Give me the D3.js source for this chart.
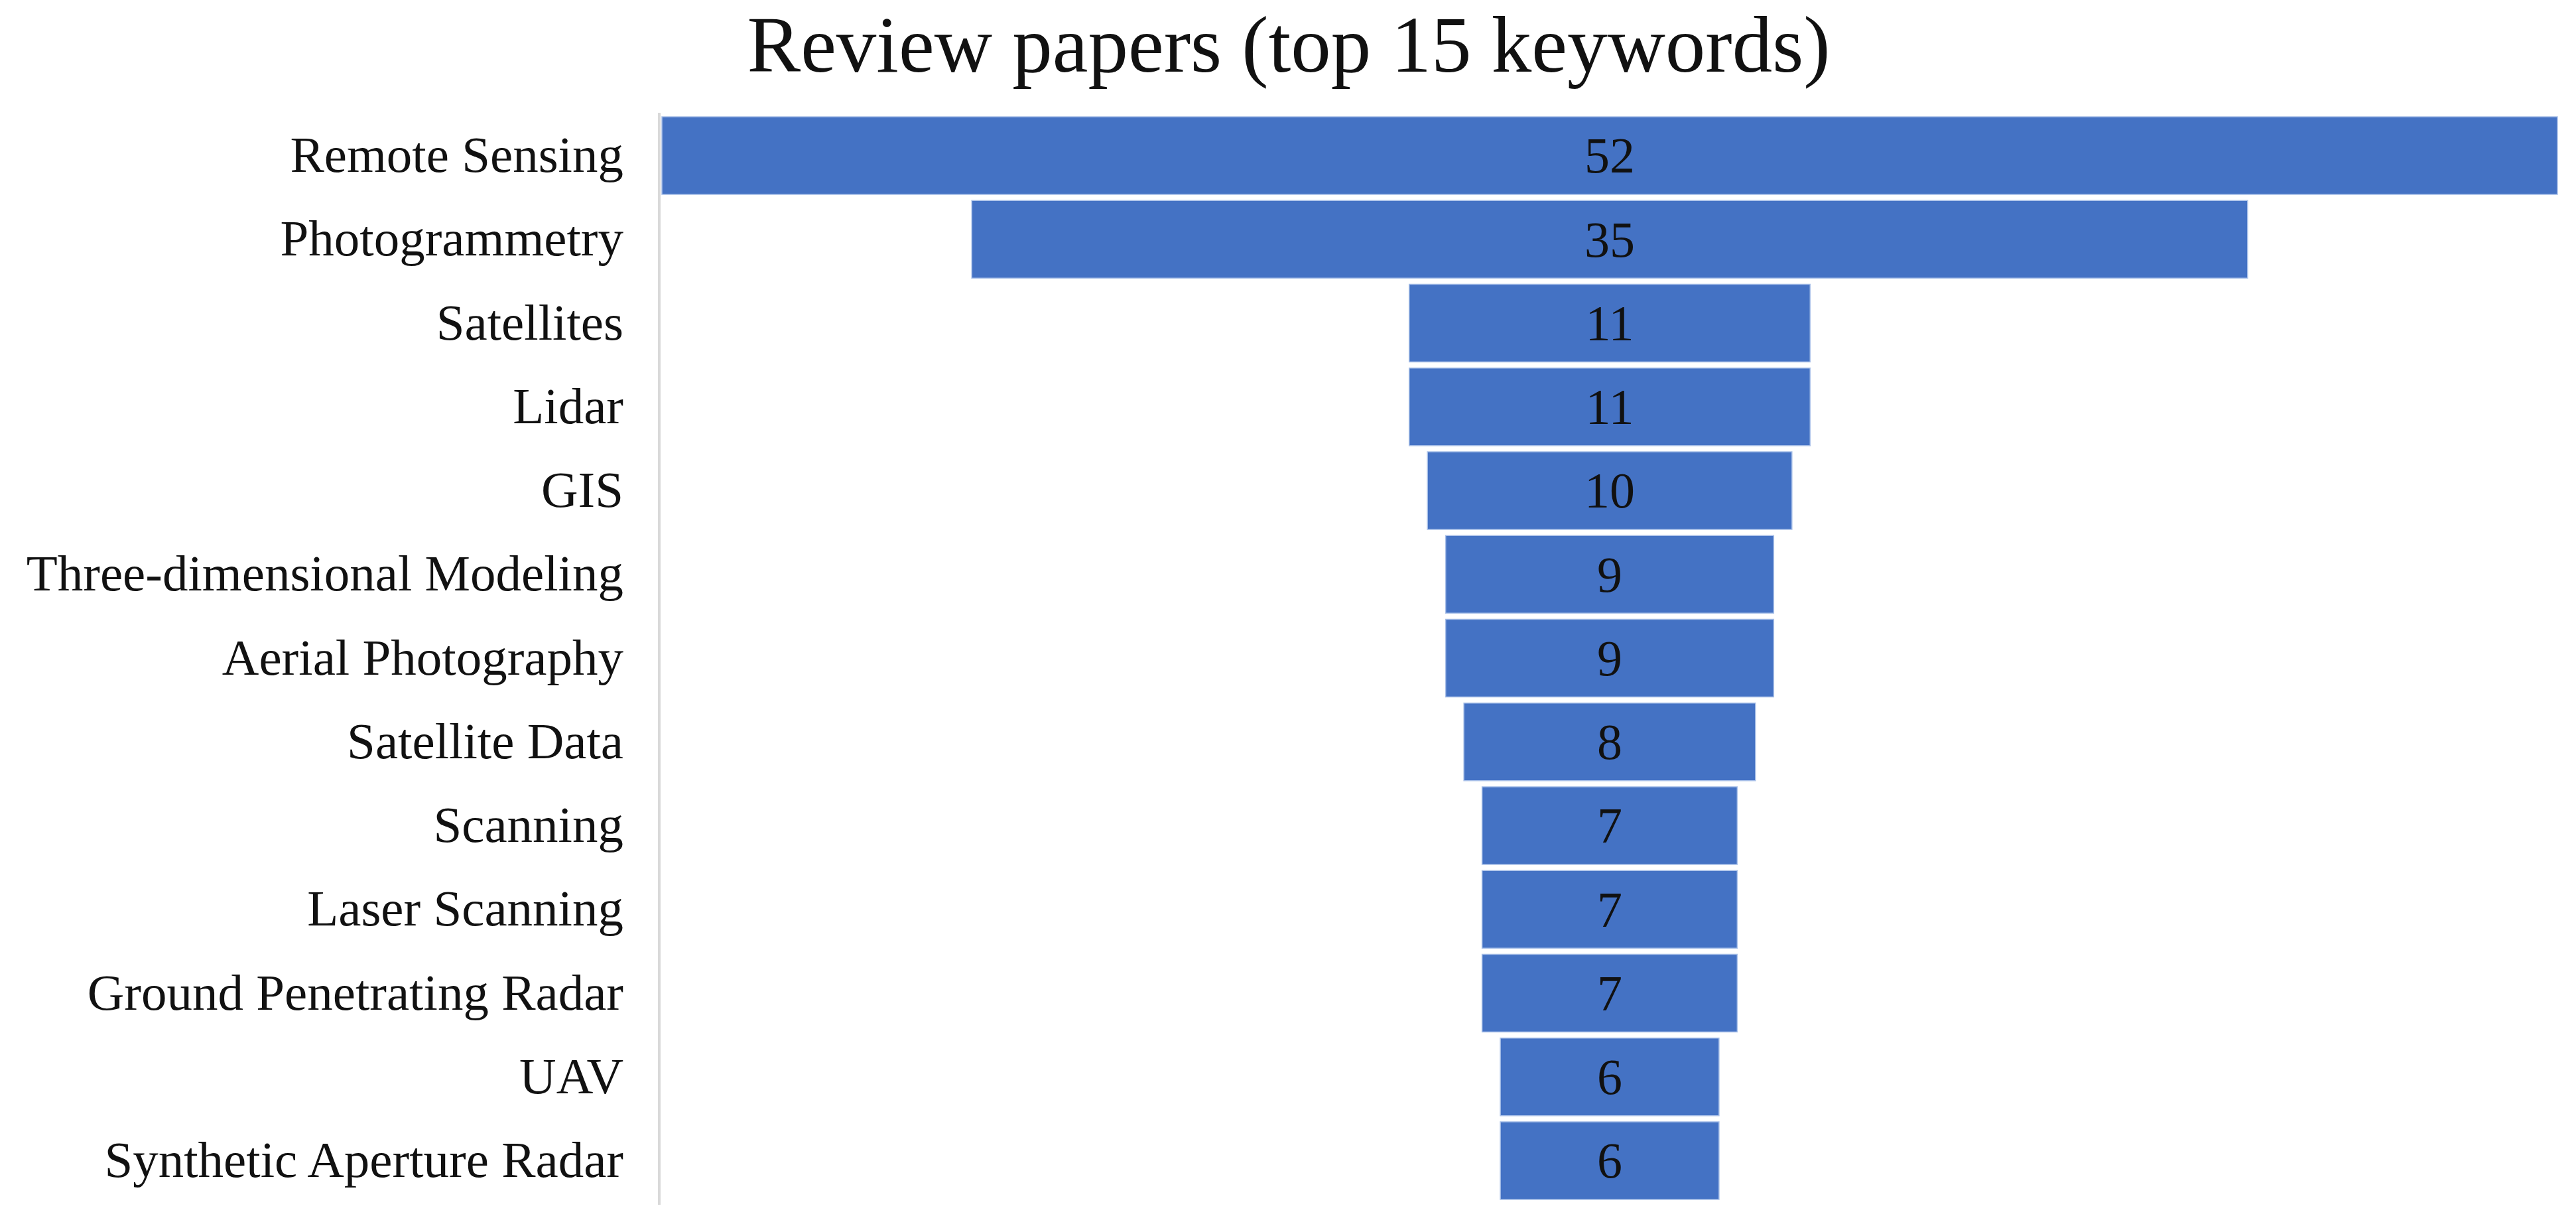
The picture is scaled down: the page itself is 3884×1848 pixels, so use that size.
<!DOCTYPE html>
<html>
<head>
<meta charset="utf-8">
<script src="https://cdn.jsdelivr.net/npm/d3@7.9.0/dist/d3.min.js"></script>
<style>
  html, body { margin: 0; padding: 0; background: #fff; }
  svg { display: block; }
  text { font-family: "Liberation Serif", "DejaVu Serif", serif; fill: #111; }
</style>
</head>
<body>
<svg id="chart" width="3884" height="1848"></svg>
<script>
// keyword labels, top to bottom
const keywords = [
  'Remote Sensing', 'Photogrammetry', 'Satellites', 'Lidar', 'GIS',
  'Three-dimensional Modeling', 'Aerial Photography', 'Satellite Data',
  'Scanning', 'Laser Scanning', 'Ground Penetrating Radar', 'UAV',
  'Synthetic Aperture Radar'
];
// number of review papers per keyword
const counts = [52, 35, 11, 11, 10, 9, 9, 8, 7, 7, 7, 6, 6];
const chartTitle = 'Review papers (top 15 keywords)';

const data = keywords.map((k, i) => ({ label: k, value: counts[i] }));

const svg = d3.select('#chart');
const axisX = 994;      // left axis line
const centerX = 2427;   // funnel centre

// vertical band scale
const y = d3.scaleBand()
  .domain(keywords)
  .range([176, 1808])
  .paddingInner(0.073)
  .paddingOuter(0);

// half-width scale (bars centred on centerX)
const half = d3.scaleLinear()
  .domain([0, d3.max(counts)])
  .range([0, 1429]);

// title
svg.append('text')
  .attr('x', 1943)
  .attr('y', 108)
  .attr('text-anchor', 'middle')
  .style('font-size', '121px')
  .text(chartTitle);

// bars
svg.append('g')
  .selectAll('rect')
  .data(data)
  .join('rect')
  .attr('x', d => centerX - half(d.value))
  .attr('y', d => y(d.label))
  .attr('width', d => 2 * half(d.value))
  .attr('height', y.bandwidth())
  .attr('fill', '#4472C4')
  .attr('stroke', '#a9c0e8')
  .attr('stroke-width', 1.5);

// value labels
svg.append('g')
  .selectAll('text')
  .data(data)
  .join('text')
  .attr('x', centerX)
  .attr('y', d => y(d.label) + y.bandwidth() / 2)
  .attr('dy', '0.34em')
  .attr('text-anchor', 'middle')
  .style('font-size', '76px')
  .text(d => d.value);

// category axis
const yAxis = d3.axisLeft(y).tickSize(0).tickPadding(54);
const gAxis = svg.append('g')
  .attr('transform', `translate(${axisX},0)`)
  .call(yAxis);
gAxis.select('.domain').remove();
gAxis.selectAll('text')
  .style('font-family', '"Liberation Serif", serif')
  .style('font-size', '77px')
  .attr('fill', '#111');

// axis line
svg.append('line')
  .attr('x1', axisX).attr('x2', axisX)
  .attr('y1', 170).attr('y2', 1816)
  .attr('stroke', '#d9d9d9')
  .attr('stroke-width', 4);
</script>
</body>
</html>
